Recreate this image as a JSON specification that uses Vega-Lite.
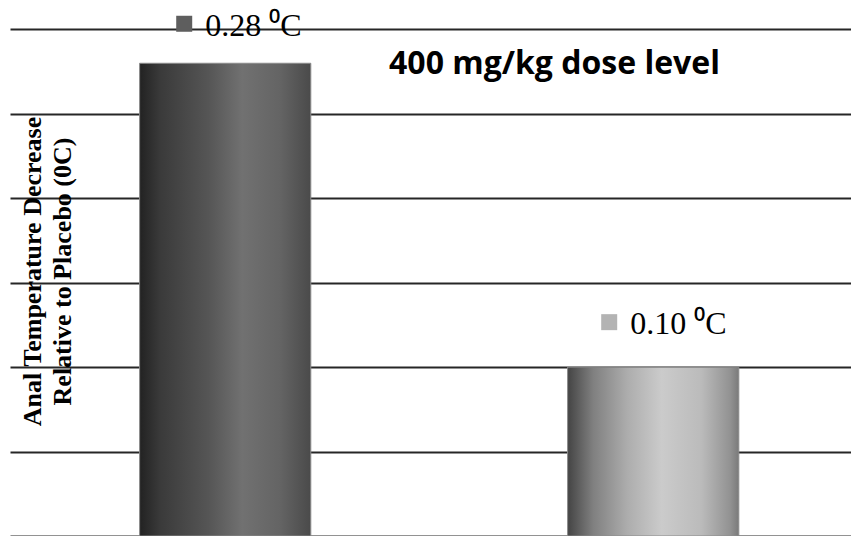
{
  "$schema": "https://vega.github.io/schema/vega-lite/v6.json",
  "width": 841,
  "height": 536,
  "autosize": {"type": "none"},
  "padding": {"left": 10, "top": 0, "right": 0, "bottom": 0},
  "background": "white",
  "config": {"view": {"stroke": null}},
  "title": {
    "text": "400 mg/kg dose level",
    "anchor": "middle",
    "frame": "group",
    "orient": "top",
    "offset": 0,
    "dx": 124,
    "dy": 106,
    "baseline": "alphabetic",
    "font": "Open Sans",
    "fontSize": 32,
    "fontWeight": "bold",
    "color": "#000000"
  },
  "data": {
    "values": [
      {"group": "Bar 1", "value": 0.28, "label": "0.28 ⁰C"},
      {"group": "Bar 2", "value": 0.10, "label": "0.10 ⁰C"}
    ]
  },
  "encoding": {
    "x": {
      "field": "group",
      "type": "nominal",
      "axis": null,
      "scale": {"paddingInner": 0.6, "paddingOuter": 0.2825, "align": 0.536}
    },
    "y": {
      "field": "value",
      "type": "quantitative",
      "scale": {"domain": [0, 0.31747], "nice": false, "zero": true},
      "axis": {
        "values": [0, 0.05, 0.1, 0.15, 0.2, 0.25, 0.3],
        "grid": true,
        "gridColor": "#262626",
        "gridWidth": 2,
        "labels": false,
        "ticks": false,
        "domain": false,
        "title": ["Anal Temperature Decrease", "Relative to Placebo (0C)"],
        "titleFont": "Liberation Serif",
        "titleFontSize": 26,
        "titleFontWeight": "bold",
        "titleColor": "#000000",
        "titleAngle": -90,
        "titleAlign": "center",
        "titleBaseline": "alphabetic",
        "titleX": 30,
        "titleY": 271,
        "titleLineHeight": 30
      }
    }
  },
  "layer": [
    {
      "transform": [{"filter": "datum.group === 'Bar 1'"}],
      "mark": {
        "type": "bar",
        "stroke": "#8a8a8a",
        "strokeWidth": 1,
        "fill": {
          "gradient": "linear",
          "x1": 0, "y1": 0, "x2": 1, "y2": 0,
          "stops": [
            {"offset": 0, "color": "#222222"},
            {"offset": 0.12, "color": "#3a3a3a"},
            {"offset": 0.4, "color": "#555555"},
            {"offset": 0.6, "color": "#717171"},
            {"offset": 0.82, "color": "#646464"},
            {"offset": 1, "color": "#4a4a4a"}
          ]
        }
      }
    },
    {
      "transform": [{"filter": "datum.group === 'Bar 2'"}],
      "mark": {
        "type": "bar",
        "stroke": "#8a8a8a",
        "strokeWidth": 1,
        "fill": {
          "gradient": "linear",
          "x1": 0, "y1": 0, "x2": 1, "y2": 0,
          "stops": [
            {"offset": 0, "color": "#444444"},
            {"offset": 0.15, "color": "#808080"},
            {"offset": 0.35, "color": "#adadad"},
            {"offset": 0.55, "color": "#cbcbcb"},
            {"offset": 0.78, "color": "#bbbbbb"},
            {"offset": 0.95, "color": "#929292"},
            {"offset": 1, "color": "#7a7a7a"}
          ]
        }
      }
    },
    {
      "transform": [{"filter": "datum.group === 'Bar 1'"}],
      "mark": {"type": "point", "shape": "square", "filled": true, "size": 256, "color": "#5e5e5e", "opacity": 1, "xOffset": -41, "yOffset": -39.5}
    },
    {
      "transform": [{"filter": "datum.group === 'Bar 2'"}],
      "mark": {"type": "point", "shape": "square", "filled": true, "size": 256, "color": "#b3b3b3", "opacity": 1, "xOffset": -44, "yOffset": -45}
    },
    {
      "transform": [{"filter": "datum.group === 'Bar 1'"}],
      "mark": {"type": "text", "align": "left", "baseline": "alphabetic", "dx": -20, "dy": -27, "font": "Liberation Serif", "fontSize": 32, "color": "#000000"},
      "encoding": {"text": {"field": "label"}}
    },
    {
      "transform": [{"filter": "datum.group === 'Bar 2'"}],
      "mark": {"type": "text", "align": "left", "baseline": "alphabetic", "dx": -23, "dy": -33, "font": "Liberation Serif", "fontSize": 32, "color": "#000000"},
      "encoding": {"text": {"field": "label"}}
    }
  ]
}
